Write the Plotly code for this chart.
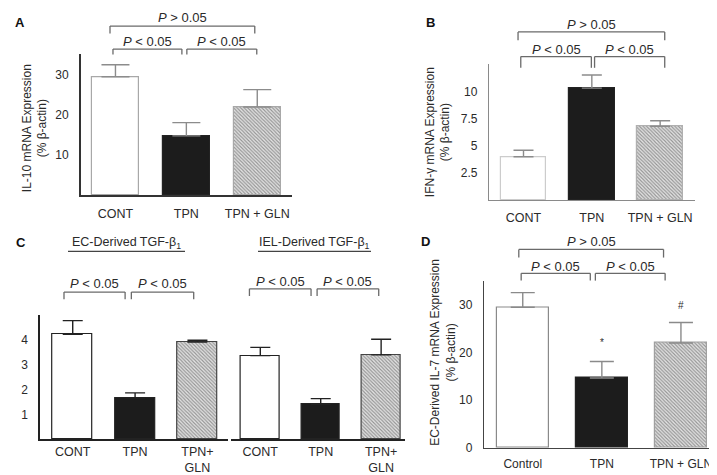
import plotly.graph_objects as go

W, H = 717, 475

# ---------------- data ----------------
groups_ab = ["CONT", "TPN", "TPN + GLN"]
groups_c = ["CONT", "TPN", "TPN+<br>GLN"]
groups_d = ["Control", "TPN", "TPN + GLN"]

il10_mean = [29.4, 14.7, 21.9]
il10_err = [3.0, 3.3, 4.3]

ifng_mean = [4.0, 10.3, 6.8]
ifng_err = [0.6, 1.2, 0.5]

tgf_ec_mean = [4.23, 1.67, 3.92]
tgf_ec_err = [0.55, 0.20, 0.07]

tgf_iel_mean = [3.37, 1.41, 3.40]
tgf_iel_err = [0.33, 0.23, 0.63]

il7_mean = [29.45, 14.66, 21.96]
il7_err = [3.05, 3.44, 4.29]

ticks_a = [10, 20, 30]
ticks_b = [2.5, 5, 7.5, 10]
ticks_b_text = ["2.5", "5", "7.5", "10"]
ticks_c = [1, 2, 3, 4]
ticks_d = [0, 10, 20, 30]

FONT = "Arial, Liberation Sans, Helvetica, sans-serif"
TXT = "#2a2a2a"

fig = go.Figure()

def px_x(p):
    return p / W

def px_y(p):
    return 1 - p / H

# panel geometry (pixel boxes)
panels = {
    "A": dict(xa="x", ya="y", xr=[-0.486, 2.49], yr=[0, 35], xpx=[73, 284], ypx=[47, 189.7]),
    "B": dict(xa="x2", ya="y2", xr=[-0.505, 2.51], yr=[0, 12.5], xpx=[481, 687], ypx=[57, 195.2]),
    "C1": dict(xa="x3", ya="y3", xr=[-0.52, 2.49], yr=[0, 5], xpx=[32.3, 220], ypx=[311.7, 437.8]),
    "C2": dict(xa="x4", ya="y4", xr=[-0.49, 2.40], yr=[0, 5], xpx=[222.7, 397.3], ypx=[311.7, 437.8]),
    "D": dict(xa="x5", ya="y5", xr=[-0.49, 2.49], yr=[0, 35], xpx=[476, 711.7], ypx=[276.7, 446.7]),
}

fills = ["#ffffff", "#1c1c1c", "#e4e4e4"]
hatch = ["", "", "\\"]


def add_bars(key, vals, errs, width, outline, errcolor, capw, linew=1.2):
    p = panels[key]
    fig.add_trace(go.Bar(
        x=[0, 1, 2], y=vals, width=width,
        xaxis=p["xa"], yaxis=p["ya"],
        marker=dict(color=fills, line=dict(color=outline, width=linew),
                    pattern=dict(shape=hatch, fgcolor="#9a9a9a", size=2.5, solidity=0.45)),
        error_y=dict(type="data", symmetric=False, array=errs, arrayminus=[0, 0, 0],
                     color=errcolor, thickness=1.4, width=capw),
        showlegend=False, hoverinfo="skip",
    ))


add_bars("A", il10_mean, il10_err, 0.66, ["#a8a8a8", "#222222", "#a8a8a8"], "#8c8c8c", 14)
add_bars("B", ifng_mean, ifng_err, 0.667, ["#cccccc", "#222222", "#b0b0b0"], "#8c8c8c", 10)
add_bars("C1", tgf_ec_mean, tgf_ec_err, 0.64, ["#222222", "#222222", "#444444"], "#222222", 10)
add_bars("C2", tgf_iel_mean, tgf_iel_err, 0.64, ["#222222", "#222222", "#444444"], "#222222", 10)
add_bars("D", il7_mean, il7_err, 0.654, ["#8a8a8a", "#222222", "#a0a0a0"], "#8a8a8a", 12)

layout = dict(
    width=W, height=H, margin=dict(l=0, r=0, t=0, b=0),
    paper_bgcolor="white", plot_bgcolor="white",
    font=dict(family=FONT, size=12, color=TXT),
    bargap=0, showlegend=False,
)


def axname(a):
    return "xaxis" + a[1:] if a.startswith("x") else "yaxis" + a[1:]

axis_styles = {
    "A": dict(lc="#333333", lw=1.8, ticktext=groups_ab, yt=ticks_a, ytt=None, showy=True, xs=6, xf=12.5),
    "B": dict(lc="#8a8a8a", lw=1.3, ticktext=groups_ab, yt=ticks_b, ytt=ticks_b_text, showy=True, xs=6, xf=12.5),
    "C1": dict(lc="#222222", lw=1.8, ticktext=groups_c, yt=ticks_c, ytt=None, showy=True, xs=0, xf=12.5),
    "C2": dict(lc="#222222", lw=1.8, ticktext=groups_c, yt=[1], ytt=None, showy=False, xs=0, xf=12.5),
    "D": dict(lc="#444444", lw=1.4, ticktext=groups_d, yt=ticks_d, ytt=None, showy=True, xs=4, xf=12),
}

for key, p in panels.items():
    s = axis_styles[key]
    xn, yn = axname(p["xa"]), axname(p["ya"])
    layout[xn] = dict(
        domain=[px_x(p["xpx"][0]), px_x(p["xpx"][1])], range=p["xr"], anchor=p["ya"],
        showline=True, linecolor=s["lc"], linewidth=s["lw"], showgrid=False, zeroline=False,
        tickvals=[0, 1, 2], ticktext=s["ticktext"], ticks="", ticklabelstandoff=s["xs"],
        tickfont=dict(size=s["xf"], color=TXT), fixedrange=True,
    )
    yd = dict(
        domain=[px_y(p["ypx"][1]), px_y(p["ypx"][0])], range=p["yr"], anchor=p["xa"],
        showline=s["showy"], linecolor=s["lc"], linewidth=s["lw"], showgrid=False, zeroline=False,
        tickvals=s["yt"], ticks="", ticklabelstandoff=8, showticklabels=s["showy"],
        tickfont=dict(size=12, color=TXT), fixedrange=True,
    )
    if s["ytt"] is not None:
        yd["ticktext"] = s["ytt"]
    layout[yn] = yd

fig.update_layout(**layout)

# ---------------- brackets ----------------
# (panel, x0, x1, y_line_px, y_leg_px, label, label_y_px)
brackets = [
    ("A", -0.077, 1.965, 18.3, 26.0, "<i>P</i> &gt; 0.05", 9.5),
    ("A", -0.035, 0.937, 41.7, 47.3, "<i>P</i> &lt; 0.05", 34.3),
    ("A", 1.007, 1.993, 41.7, 47.3, "<i>P</i> &lt; 0.05", 34.3),
    ("B", -0.08, 2.067, 24.3, 32.7, "<i>P</i> &gt; 0.05", 16.7),
    ("B", -0.04, 0.993, 49.3, 60.7, "<i>P</i> &lt; 0.05", 41.7),
    ("B", 1.04, 2.067, 49.3, 60.7, "<i>P</i> &lt; 0.05", 41.7),
    ("C1", -0.14, 0.84, 288.3, 295.7, "<i>P</i> &lt; 0.05", 280.0),
    ("C1", 0.94, 1.94, 288.3, 295.7, "<i>P</i> &lt; 0.05", 280.0),
    ("C2", -0.18, 0.84, 285.0, 292.3, "<i>P</i> &lt; 0.05", 277.7),
    ("C2", 0.94, 1.96, 285.0, 292.3, "<i>P</i> &lt; 0.05", 277.7),
    ("D", -0.05, 1.78, 245.0, 253.3, "<i>P</i> &gt; 0.05", 237.3),
    ("D", -0.02, 0.854, 269.3, 276.7, "<i>P</i> &lt; 0.05", 262.3),
    ("D", 0.918, 1.80, 269.3, 276.7, "<i>P</i> &lt; 0.05", 262.3),
]

shapes = []
annotations = []
BR = "#6a6a6a"
for key, x0, x1, yl, yg, lab, ty in brackets:
    p = panels[key]
    r0, r1 = p["xr"]
    f0 = (x0 - r0) / (r1 - r0)
    f1 = (x1 - r0) / (r1 - r0)
    xref = p["xa"] + " domain"
    line = dict(color=BR, width=1.3)
    shapes.append(dict(type="line", xref=xref, yref="paper", x0=f0, x1=f1, y0=px_y(yl), y1=px_y(yl), line=line))
    shapes.append(dict(type="line", xref=xref, yref="paper", x0=f0, x1=f0, y0=px_y(yl), y1=px_y(yg), line=line))
    shapes.append(dict(type="line", xref=xref, yref="paper", x0=f1, x1=f1, y0=px_y(yl), y1=px_y(yg), line=line))
    annotations.append(dict(xref=xref, yref="paper", x=(f0 + f1) / 2, y=px_y(ty), text=lab,
                            showarrow=False, xanchor="center", yanchor="middle",
                            font=dict(size=13, color=TXT)))

# C section headers with underline
headers = [("EC-Derived TGF-β<sub>1</sub>", 60, 177), ("IEL-Derived TGF-β<sub>1</sub>", 250, 363)]
for txt, xa, xb in headers:
    annotations.append(dict(xref="paper", yref="paper", x=px_x((xa + xb) / 2), y=px_y(239), text=txt,
                            showarrow=False, xanchor="center", yanchor="middle", font=dict(size=12.5, color=TXT)))
    shapes.append(dict(type="line", xref="paper", yref="paper", x0=px_x(xa), x1=px_x(xb),
                       y0=px_y(247), y1=px_y(247), line=dict(color="#444444", width=1.2)))

# panel letters
for lab, x, y in [("A", 12, 15), ("B", 422, 15), ("C", 13, 238), ("D", 417, 237)]:
    annotations.append(dict(xref="paper", yref="paper", x=px_x(x), y=px_y(y), text="<b>%s</b>" % lab,
                            showarrow=False, xanchor="center", yanchor="middle", font=dict(size=13, color="#111111")))

# y axis titles
for txt, x, y in [("IL-10 mRNA Expression<br>(% β-actin)", 27, 122),
                  ("IFN-γ mRNA Expression<br>(% β-actin)", 430, 126),
                  ("EC-Derived IL-7 mRNA Expression<br>(% β-actin)", 435, 350)]:
    annotations.append(dict(xref="paper", yref="paper", x=px_x(x), y=px_y(y), text=txt, textangle=-90,
                            showarrow=False, xanchor="center", yanchor="middle", font=dict(size=12, color=TXT)))

# significance symbols in D
annotations.append(dict(xref="x5", yref="y5", x=1, y=il7_mean[1] + il7_err[1] + 4, text="*",
                        showarrow=False, font=dict(size=10, color=TXT)))
annotations.append(dict(xref="x5", yref="y5", x=2, y=il7_mean[2] + il7_err[2] + 3.5, text="#",
                        showarrow=False, font=dict(size=10, color=TXT)))

fig.update_layout(shapes=shapes, annotations=annotations)

fig.write_html("out.html")
